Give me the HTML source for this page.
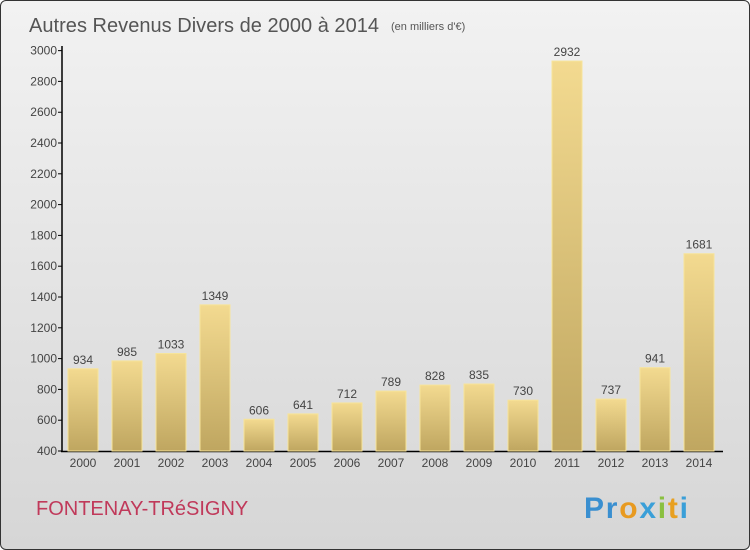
<!DOCTYPE html>
<html><head><meta charset="utf-8"><style>
body{margin:0;width:750px;height:550px;overflow:hidden;font-family:"Liberation Sans",sans-serif}
#wrap{position:absolute;left:0;top:0;width:748px;height:548px;border:1px solid #333;border-radius:6px;background:linear-gradient(#f2f2f2,#d6d6d6);overflow:hidden}
</style></head><body>
<div id="wrap">
<svg width="750" height="550" id="chart">
<defs><linearGradient id="bg" x1="0" y1="0" x2="0" y2="1"><stop offset="0" stop-color="#f3da90"/><stop offset="1" stop-color="#bfa660"/></linearGradient></defs>
<text x="28" y="31" font-size="20" fill="#555" textLength="350">Autres Revenus Divers de 2000 à 2014</text>
<text x="390" y="29" font-size="11" fill="#555">(en milliers d'€)</text>
<text x="35" y="514" font-size="20" fill="#c0395a">FONTENAY-TRéSIGNY</text>
<text x="583" y="517" font-size="30" font-weight="bold" textLength="104"><tspan fill="#3a8fd0">Pr</tspan><tspan fill="#e89a20">o</tspan><tspan fill="#3a9fd8">x</tspan><tspan fill="#8ac040">i</tspan><tspan fill="#e8a020">t</tspan><tspan fill="#3a9fd8">i</tspan></text>
<g id="g"></g>
</svg></div>
<script>
const categories=["2000","2001","2002","2003","2004","2005","2006","2007","2008","2009","2010","2011","2012","2013","2014"];
const values=[934,985,1033,1349,606,641,712,789,828,835,730,2932,737,941,1681];
const yTicks=[400,600,800,1000,1200,1400,1600,1800,2000,2200,2400,2600,2800,3000];
const NS="http://www.w3.org/2000/svg",g=document.getElementById('g');
const y=v=>450-(v-400)*0.154, x=i=>67+i*44;
function el(t,a,txt){const e=document.createElementNS(NS,t);for(const k in a)e.setAttribute(k,a[k]);if(txt!=null)e.textContent=txt;g.appendChild(e);return e;}
let a=el('line',{x1:61,y1:45,x2:61,y2:451,stroke:'#000','stroke-width':1.5});


a=el('line',{x1:60,y1:450.5,x2:722,y2:450.5,stroke:'#000','stroke-width':1.5});


yTicks.forEach(t=>{
 const l=el('line',{x1:57,x2:61,y1:y(t),y2:y(t),stroke:'#000'});
 
 
 const tx=el('text',{x:56,y:y(t)+4,'text-anchor':'end','font-size':12,fill:'#444'},t);
 
 
});
categories.forEach((c,i)=>{
 const v=values[i];
 const r=el('rect',{x:x(i),y:y(v),width:30,height:450-y(v),fill:'url(#bg)',stroke:'#f7e49a','stroke-width':1});
 
 
 const vl=el('text',{x:x(i)+15,y:y(v)-5,'text-anchor':'middle','font-size':12,fill:'#444'},v);
 
 
 const xl=el('text',{x:x(i)+15,y:466,'text-anchor':'middle','font-size':12,fill:'#444'},c);
 
 
});
</script>
</body></html>
